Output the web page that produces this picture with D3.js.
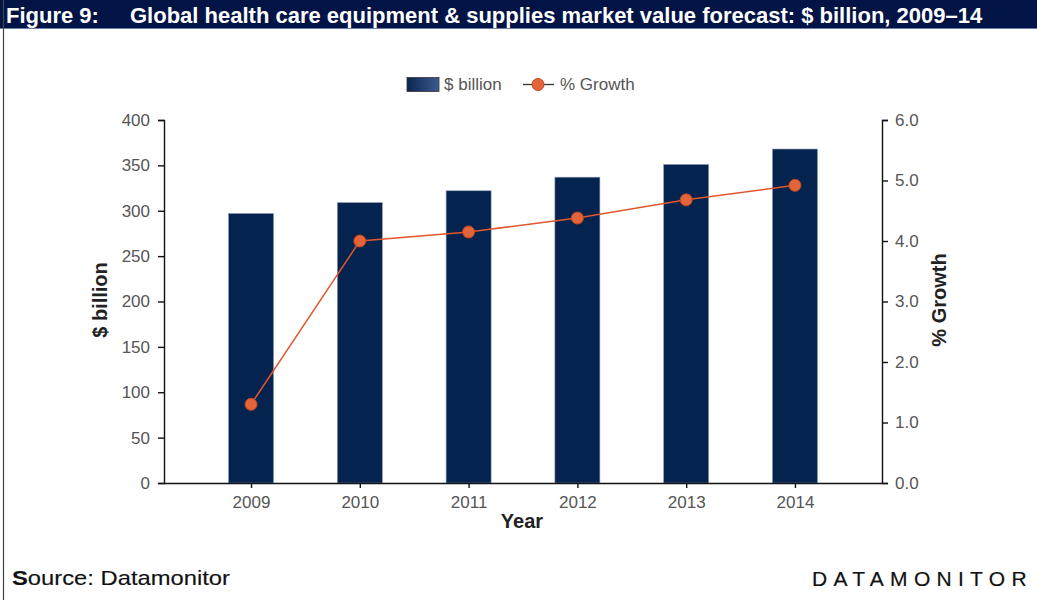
<!DOCTYPE html>
<html>
<head>
<meta charset="utf-8">
<script src="https://cdnjs.cloudflare.com/ajax/libs/d3/7.8.5/d3.min.js"></script>
<style>
  body { margin: 0; background: #fff; overflow: hidden; }
  svg { display: block; font-family: "Liberation Sans", Arial, sans-serif; }
  .tick text { fill: #555; font-size: 17px; font-family: "Liberation Sans", Arial, sans-serif; }
  .domain, .tick line { stroke: #111; }
</style>
</head>
<body>
<svg id="chart" width="1037" height="600"></svg>
<script>
// chart data
var years = ['2009', '2010', '2011', '2012', '2013', '2014'];
var marketValue = [297, 309, 322, 337, 351, 368];
var growthPct = [1.3, 4.0, 4.15, 4.38, 4.68, 4.92];
var leftTicks = [0, 50, 100, 150, 200, 250, 300, 350, 400];
var rightTicks = [0, 1, 2, 3, 4, 5, 6];

var svg = d3.select('#chart');

var plot = {l: 164, r: 882, t: 120, b: 483};
var barWidth = 45;

// title bar
svg.append('rect')
    .attr('x', 0).attr('y', 0)
    .attr('width', 1037).attr('height', 28)
    .attr('fill', '#021346');
svg.append('line')
    .attr('x1', 0).attr('x2', 1037).attr('y1', 28.5).attr('y2', 28.5)
    .attr('stroke', '#6d7ea6');
svg.append('text')
    .attr('x', 6).attr('y', 23)
    .attr('fill', '#fff').attr('font-weight', 'bold').attr('font-size', '22px')
    .text('Figure 9:');
svg.append('text')
    .attr('x', 130).attr('y', 23)
    .attr('fill', '#fff').attr('font-weight', 'bold').attr('font-size', '22px')
    .text('Global health care equipment & supplies market value forecast: $ billion, 2009\u201314');

// left border line
svg.append('line')
    .attr('x1', 3.5).attr('x2', 3.5).attr('y1', 0).attr('y2', 600)
    .attr('stroke', '#444').attr('stroke-width', 1.2);

// scales
var xScale = d3.scalePoint().domain(years).range([plot.l, plot.r]).padding(0.8);
var yLeft = d3.scaleLinear().domain([0, 400]).range([plot.b, plot.t]);
var yRight = d3.scaleLinear().domain([0, 6]).range([plot.b, plot.t]);

// bar gradient for legend
var defs = svg.append('defs');
var grad = defs.append('linearGradient').attr('id', 'legGrad');
grad.append('stop').attr('offset', '0%').attr('stop-color', '#0a2552');
grad.append('stop').attr('offset', '100%').attr('stop-color', '#3c5a8e');

// bars
svg.selectAll('.bar')
    .data(years).enter()
    .append('rect')
    .attr('class', 'bar')
    .attr('x', function(d) { return xScale(d) - barWidth / 2; })
    .attr('y', function(d, i) { return yLeft(marketValue[i]); })
    .attr('width', barWidth)
    .attr('height', function(d, i) { return plot.b - yLeft(marketValue[i]); })
    .attr('fill', '#05234f')
    .attr('stroke', '#8d9ab2').attr('stroke-width', 0.6);

// axes
var xAxis = svg.append('g')
    .attr('transform', 'translate(0,' + plot.b + ')')
    .call(d3.axisBottom(xScale).tickSize(5).tickSizeOuter(0).tickPadding(8));
xAxis.select('.domain').attr('d', 'M' + plot.l + ',0.5H' + plot.r);

svg.append('g')
    .attr('transform', 'translate(' + plot.l + ',0)')
    .call(d3.axisLeft(yLeft).tickValues(leftTicks).tickSize(6).tickSizeOuter(6).tickPadding(8));

svg.append('g')
    .attr('transform', 'translate(' + plot.r + ',0)')
    .call(d3.axisRight(yRight).tickValues(rightTicks).tickFormat(d3.format('.1f')).tickSize(6).tickSizeOuter(6).tickPadding(7));

svg.selectAll('.domain, .tick line').attr('stroke-width', 1.4);

// growth line
var line = d3.line()
    .x(function(d, i) { return xScale(years[i]); })
    .y(function(d) { return yRight(d); });

svg.append('path')
    .datum(growthPct)
    .attr('d', line)
    .attr('fill', 'none')
    .attr('stroke', '#e2572d')
    .attr('stroke-width', 1.5);

svg.selectAll('.pt')
    .data(growthPct).enter()
    .append('circle')
    .attr('class', 'pt')
    .attr('cx', function(d, i) { return xScale(years[i]); })
    .attr('cy', function(d) { return yRight(d); })
    .attr('r', 6)
    .attr('fill', '#e4643a')
    .attr('stroke', '#c2471f').attr('stroke-width', 1);

// axis titles
svg.append('text')
    .attr('transform', 'translate(107,300)rotate(-90)')
    .attr('text-anchor', 'middle')
    .attr('font-weight', 'bold').attr('font-size', '20px').attr('fill', '#222')
    .text('$ billion');
svg.append('text')
    .attr('transform', 'translate(946,300)rotate(-90)')
    .attr('text-anchor', 'middle')
    .attr('font-weight', 'bold').attr('font-size', '20px').attr('fill', '#222')
    .text('% Growth');
svg.append('text')
    .attr('x', 522).attr('y', 528)
    .attr('text-anchor', 'middle')
    .attr('font-weight', 'bold').attr('font-size', '20px').attr('fill', '#222')
    .text('Year');

// legend
var legend = svg.append('g');
legend.append('rect')
    .attr('x', 407).attr('y', 77.5).attr('width', 32).attr('height', 14)
    .attr('fill', 'url(#legGrad)').attr('stroke', '#333').attr('stroke-width', 0.8);
legend.append('text')
    .attr('x', 444).attr('y', 90)
    .attr('font-size', '17px').attr('fill', '#555')
    .text('$ billion');
legend.append('line')
    .attr('x1', 523).attr('x2', 554).attr('y1', 84.5).attr('y2', 84.5)
    .attr('stroke', '#333').attr('stroke-width', 1.3);
legend.append('circle')
    .attr('cx', 538).attr('cy', 84.5).attr('r', 6)
    .attr('fill', '#e4643a').attr('stroke', '#c2471f');
legend.append('text')
    .attr('x', 560).attr('y', 90)
    .attr('font-size', '17px').attr('fill', '#555')
    .text('% Growth');

// footer
svg.append('text')
    .attr('x', 12).attr('y', 585)
    .attr('font-size', '21px').attr('fill', '#111')
    .attr('stroke', '#111').attr('stroke-width', 0.15)
    .attr('textLength', 218).attr('lengthAdjust', 'spacingAndGlyphs')
    .html('<tspan font-weight="bold">S</tspan>ource: Datamonitor');
svg.append('text')
    .attr('x', 812).attr('y', 586)
    .attr('font-size', '21px').attr('fill', '#111')
    .attr('stroke', '#111').attr('stroke-width', 0.2)
    .attr('letter-spacing', '6.3px')
    .text('DATAMONITOR');
</script>
</body>
</html>
